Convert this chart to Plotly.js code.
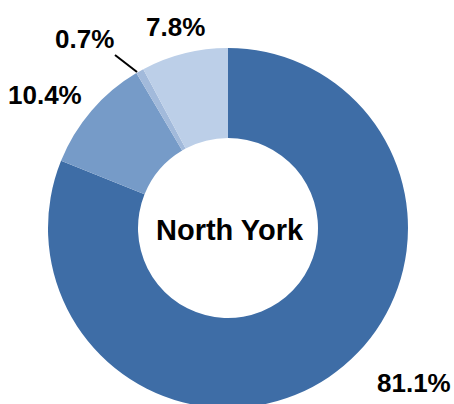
<!DOCTYPE html>
<html>
<head>
<meta charset="utf-8">
<script src="https://cdn.plot.ly/plotly-3.0.1.min.js"></script>
<style>
html,body{margin:0;padding:0;overflow:hidden;background:#fff;}
#chart{width:454px;height:440px;}
</style>
</head>
<body>
<div id="chart"></div>
<script>
const categories = ["Slice A", "Slice B", "Slice C", "Slice D"];
const values = [81.1, 10.4, 0.7, 7.8];
const labelTexts = ["81.1%", "10.4%", "0.7%", "7.8%"];
const colors = ["#3E6DA6", "#769BC8", "#A2BADB", "#BCCFE8"];
const centerLabel = "North York";

const W = 454, H = 440;
const px = x => x / W;
const py = y => (H - y) / H;

const cx = 228, cy = 228, R = 180;

const trace = {
  type: "pie",
  labels: categories,
  values: values,
  sort: false,
  direction: "clockwise",
  rotation: 0,
  hole: 0.5,
  textinfo: "none",
  textposition: "none",
  hoverinfo: "none",
  marker: {colors: colors, line: {color: "#ffffff", width: 0}},
  domain: {x: [px(cx - R), px(cx + R)], y: [py(cy + R), py(cy - R)]},
  showlegend: false
};

const labelPos = [[414, 383], [45, 95], [84, 39], [175, 27]];
const font = {family: "Liberation Sans, Arial, sans-serif", size: 26, color: "#000000", weight: "bold"};

const annotations = labelTexts.map((t, i) => ({
  text: t, xref: "paper", yref: "paper",
  x: px(labelPos[i][0]), y: py(labelPos[i][1]),
  xanchor: "center", yanchor: "middle",
  showarrow: false, font: font
}));
annotations.push({
  text: centerLabel, xref: "paper", yref: "paper",
  x: px(230), y: py(230), xanchor: "center", yanchor: "middle",
  showarrow: false,
  font: {family: "Liberation Sans, Arial, sans-serif", size: 29, color: "#000000", weight: "bold"}
});

const layout = {
  width: W, height: H,
  margin: {l: 0, r: 0, t: 0, b: 0},
  paper_bgcolor: "#ffffff",
  annotations: annotations,
  shapes: [{
    type: "line", xref: "paper", yref: "paper",
    x0: px(115), y0: py(55), x1: px(137), y1: py(72),
    line: {color: "#000000", width: 2}
  }]
};

Plotly.newPlot("chart", [trace], layout, {displayModeBar: false, staticPlot: true});
</script>
</body>
</html>
